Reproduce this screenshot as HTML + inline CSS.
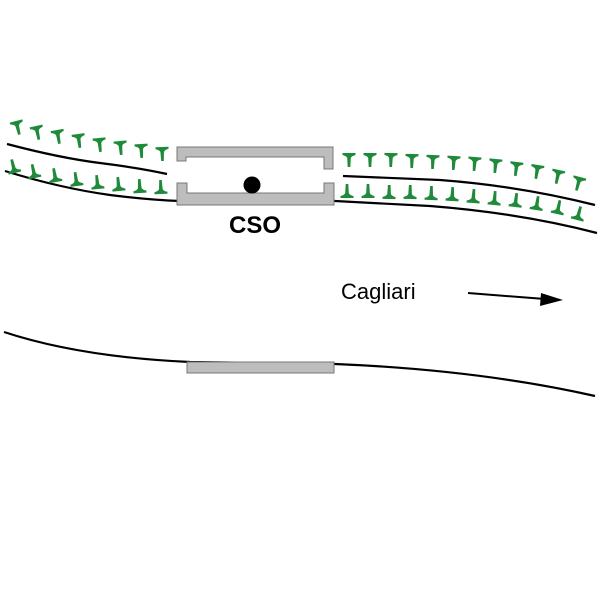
<!DOCTYPE html>
<html><head><meta charset="utf-8"><style>
html,body{margin:0;padding:0;background:#fff;width:600px;height:600px;overflow:hidden}
</style></head><body>
<svg width="600" height="600" viewBox="0 0 600 600" xmlns="http://www.w3.org/2000/svg">
<defs>
<path id="t" d="M-6.5,0 L6.5,0 L6.5,2 Q2.5,3 1.8,5 L1.3,14 L-1.3,14 L-1.8,5 Q-2.5,3 -6.5,2 Z" fill="#1f8a3a"/>
<path id="b" d="M-6.5,0 L6.5,0 L6.5,-2 Q2.5,-3 1.8,-5 L1.3,-14 L-1.3,-14 L-1.8,-5 Q-2.5,-3 -6.5,-2 Z" fill="#1f8a3a"/>
</defs>
<g fill="none" stroke="#000" stroke-width="2.2">
<path d="M7,144 Q60,158 100,163 T167,174"/>
<path d="M5,171 Q60,188 110,195 Q150,200 180,201 L335,201"/>
<path d="M343,176 L440,180 Q520,186 595,205"/>
<path d="M335,201 L430,206 Q520,213 597,233"/>
<path d="M4,332 Q80,357 190,362 L335,364 Q480,370 595,396"/>
</g>
<use href="#t" transform="translate(16,121) rotate(-14)"/>
<use href="#t" transform="translate(36,126) rotate(-12)"/>
<use href="#t" transform="translate(57,130) rotate(-10)"/>
<use href="#t" transform="translate(78,134) rotate(-8)"/>
<use href="#t" transform="translate(99,138) rotate(-6)"/>
<use href="#t" transform="translate(120,141) rotate(-5)"/>
<use href="#t" transform="translate(141,144) rotate(-3)"/>
<use href="#t" transform="translate(162,147) rotate(-2)"/>
<use href="#b" transform="translate(15,173) rotate(-14)"/>
<use href="#b" transform="translate(35,178) rotate(-12)"/>
<use href="#b" transform="translate(56,182) rotate(-10)"/>
<use href="#b" transform="translate(77,186) rotate(-8)"/>
<use href="#b" transform="translate(98,189) rotate(-6)"/>
<use href="#b" transform="translate(119,191) rotate(-5)"/>
<use href="#b" transform="translate(140,193) rotate(-3)"/>
<use href="#b" transform="translate(161,194) rotate(-2)"/>
<use href="#t" transform="translate(349,153) rotate(0)"/>
<use href="#t" transform="translate(370,153) rotate(0)"/>
<use href="#t" transform="translate(391,153) rotate(1)"/>
<use href="#t" transform="translate(412,154) rotate(1)"/>
<use href="#t" transform="translate(433,155) rotate(2)"/>
<use href="#t" transform="translate(454,156) rotate(3)"/>
<use href="#t" transform="translate(475,157) rotate(4)"/>
<use href="#t" transform="translate(496,159) rotate(5)"/>
<use href="#t" transform="translate(517,162) rotate(7)"/>
<use href="#t" transform="translate(538,165) rotate(9)"/>
<use href="#t" transform="translate(559,170) rotate(12)"/>
<use href="#t" transform="translate(580,177) rotate(15)"/>
<use href="#b" transform="translate(347,198) rotate(0)"/>
<use href="#b" transform="translate(368,198) rotate(0)"/>
<use href="#b" transform="translate(389,199) rotate(1)"/>
<use href="#b" transform="translate(410,199) rotate(1)"/>
<use href="#b" transform="translate(431,200) rotate(2)"/>
<use href="#b" transform="translate(452,201) rotate(3)"/>
<use href="#b" transform="translate(473,203) rotate(4)"/>
<use href="#b" transform="translate(494,205) rotate(5)"/>
<use href="#b" transform="translate(515,207) rotate(7)"/>
<use href="#b" transform="translate(536,210) rotate(9)"/>
<use href="#b" transform="translate(557,214) rotate(12)"/>
<use href="#b" transform="translate(577,220) rotate(15)"/>
<g fill="#bdbdbd" stroke="#777" stroke-width="1">
<path d="M177,147 L333,147 L333,169 L324,169 L324,157 L186,157 L186,161 L177,161 Z"/>
<path d="M177,183 L187,183 L187,193 L324,193 L324,183 L334,183 L334,205 L177,205 Z"/>
<rect x="187" y="362" width="147" height="11"/>
</g>
<circle cx="252" cy="185" r="8.5" fill="#000"/>
<text x="255" y="233" font-family="Liberation Sans, sans-serif" font-weight="bold" font-size="24" text-anchor="middle">CSO</text>
<text x="341" y="299" font-family="Liberation Sans, sans-serif" font-size="22">Cagliari</text>
<line x1="468" y1="293" x2="545" y2="299" stroke="#000" stroke-width="2"/>
<path d="M563,300 L541,293 L540,306 Z" fill="#000"/>
</svg>
</body></html>
